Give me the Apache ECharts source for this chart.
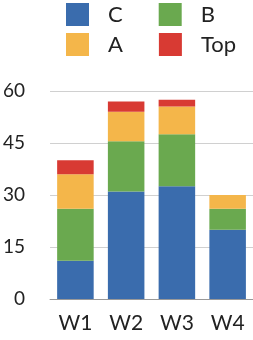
<!DOCTYPE html>
<html><head><meta charset="utf-8">
<script src="https://cdn.jsdelivr.net/npm/echarts@6/dist/echarts.min.js"></script>
<style>html,body{margin:0;padding:0;background:#fff}#c{width:253px;height:340px}</style>
</head><body><div id="c"></div>
<script>
const categories = ['W1','W2','W3','W4'];
const seriesNames = ['C','B','A','Top'];
const valuesC = [11, 31, 32.5, 20];
const valuesB = [15, 14.5, 15, 6];
const valuesA = [10, 8.5, 8, 4];
const valuesTop = [4, 3, 2, 0];
const yTicks = [0, 15, 30, 45, 60];
const colors = ['#3a6cad', '#6aa94f', '#f4b64a', '#d83a33'];

const font = 'Lato, "Open Sans", sans-serif';
const chart = echarts.init(document.getElementById('c'), null, {renderer:'canvas'});
const data = [valuesC, valuesB, valuesA, valuesTop];
chart.setOption({
  animation:false,
  color: colors,
  legend: [
    {data:['C','B'], left:66, top:3, itemWidth:23, itemHeight:23, itemGap:36, icon:'rect',
     textStyle:{fontFamily:font, fontSize:22, color:'#222', padding:[0,0,0,14]}, padding:0},
    {data:['A','Top'], left:66, top:33, itemWidth:23, itemHeight:23, itemGap:36, icon:'rect',
     textStyle:{fontFamily:font, fontSize:22, color:'#222', padding:[0,0,0,14]}, padding:0}
  ],
  grid:{left:42, right:0, top:91, bottom:41, containLabel:false},
  xAxis:{type:'category', data:categories,
    axisLine:{lineStyle:{color:'#999'}}, axisTick:{show:false},
    axisLabel:{fontFamily:font, fontSize:21, color:'#222', margin:14}},
  yAxis:{type:'value', min:yTicks[0], max:yTicks[yTicks.length-1], interval:15,
    axisLine:{show:false}, axisTick:{show:false},
    splitLine:{lineStyle:{color:'#d0d0d0'}},
    axisLabel:{fontFamily:font, fontSize:19, color:'#222', margin:25}},
  series: seriesNames.map((n,i)=>({name:n, type:'bar', stack:'s', data:data[i], barWidth:'72%'}))
});
</script></body></html>
